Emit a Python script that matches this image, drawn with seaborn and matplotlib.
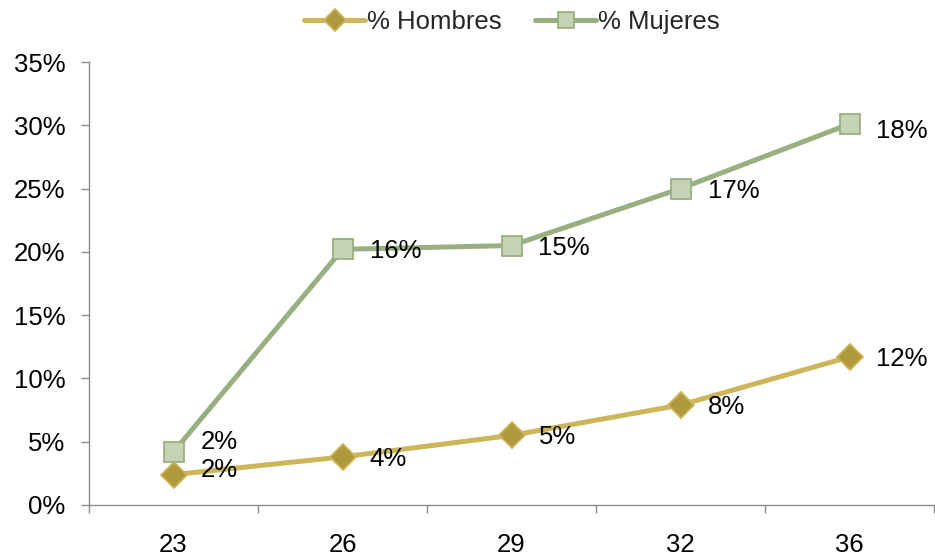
import matplotlib
matplotlib.use("Agg")
import matplotlib.pyplot as plt
import seaborn as sns
import pandas as pd
from matplotlib.ticker import FuncFormatter, MultipleLocator

# Data
ages = ["23", "26", "29", "32", "36"]
hombres = [2.4, 3.8, 5.5, 7.9, 11.7]
mujeres = [4.2, 20.2, 20.5, 25.0, 30.1]
hombres_labels = ["2%", "4%", "5%", "8%", "12%"]
mujeres_labels = ["2%", "16%", "15%", "17%", "18%"]

sns.set_theme(style="white")
plt.rcParams["font.family"] = ["Liberation Sans", "DejaVu Sans"]

FS = 18.5

df = pd.DataFrame({
    "edad": ages * 2,
    "valor": hombres + mujeres,
    "serie": ["% Hombres"] * len(ages) + ["% Mujeres"] * len(ages),
})

fig = plt.figure(figsize=(9.35, 5.56), dpi=100)
ax = fig.add_axes([89 / 935, 51 / 556, 845 / 935, 443 / 556])

styles = {
    "% Hombres": dict(line="#CDB65A", face="#B0993A", edge="#CDB65A", marker="D", ms=13.5),
    "% Mujeres": dict(line="#98AF80", face="#C4D3B3", edge="#98AF80", marker="s", ms=14),
}

for name, st in styles.items():
    sub = df[df["serie"] == name]
    sns.lineplot(data=sub, x="edad", y="valor", ax=ax, color=st["line"], lw=3.6,
                 marker=st["marker"], markersize=st["ms"], markerfacecolor=st["face"],
                 markeredgecolor=st["edge"], markeredgewidth=1.3, label=name,
                 sort=False)

# Data labels to the right of each point
def put_labels(vals, labels, dy_overrides):
    for i, (v, t) in enumerate(zip(vals, labels)):
        dy = dy_overrides.get(i, -2)
        ax.annotate(t, (i, v), xytext=(27, dy), textcoords="offset pixels",
                    ha="left", va="center", fontsize=FS, color="black")

put_labels(hombres, hombres_labels, {0: 5})
put_labels(mujeres, mujeres_labels, {0: 10, 4: -7})

ax.set_xlim(-0.5, 4.5)
ax.set_ylim(0, 35)
ax.yaxis.set_major_locator(MultipleLocator(5))
ax.yaxis.set_major_formatter(FuncFormatter(lambda v, p: f"{v:.0f}%"))
ax.set_xticks(range(len(ages)))
ax.set_xticks([i - 0.5 for i in range(len(ages) + 1)], minor=True)
ax.set_xlabel("")
ax.set_ylabel("")

for side in ["top", "right"]:
    ax.spines[side].set_visible(False)
for side in ["left", "bottom"]:
    ax.spines[side].set_color("#8C8C8C")
    ax.spines[side].set_linewidth(1.0)

ax.tick_params(axis="y", which="major", length=5.8, width=1, color="#8C8C8C",
               direction="out", left=True, labelsize=FS, pad=11, labelcolor="black")
ax.tick_params(axis="x", which="major", length=0, labelsize=FS, pad=20, labelcolor="black")
ax.tick_params(axis="x", which="minor", length=5.8, width=1, color="#8C8C8C",
               direction="out", bottom=True)

leg = ax.legend(loc="center", bbox_to_anchor=(0.5, 1.0 + 40 / 443), ncol=2, frameon=False,
                fontsize=FS, handlelength=2.4, columnspacing=1.3, handletextpad=0.05,
                borderaxespad=0.0, markerscale=0.8)

fig.savefig("out.png", dpi=100)
